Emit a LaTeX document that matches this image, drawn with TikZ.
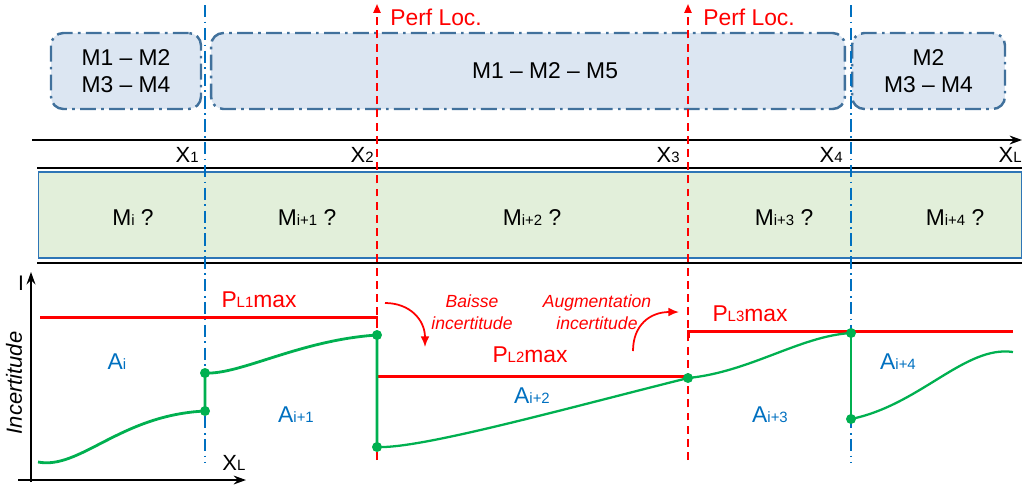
\documentclass[tikz,border=0pt]{standalone}
\usepackage{fontspec}
\setmainfont{Liberation Sans}
\usepackage{tikz}
\usetikzlibrary{arrows.meta, positioning}

\definecolor{boxfill}{HTML}{DCE6F2}
\definecolor{boxline}{HTML}{41719C}
\definecolor{bandfill}{HTML}{E2EFDA}
\definecolor{bandline}{HTML}{2E75B6}
\definecolor{areablue}{HTML}{0070C0}
\definecolor{curvegreen}{HTML}{00B050}

\newcommand{\smidx}[1]{{\fontsize{8.5}{9}\selectfont #1}}

\begin{document}
\begin{tikzpicture}[
    x=0.02cm, y=-0.02cm,
    mbox/.style={rectangle, rounded corners=7pt, draw=boxline, fill=boxfill, line width=1.4pt,
        dash pattern=on 9pt off 3pt on 1.5pt off 3pt, minimum height=1.52cm, align=center,
        font=\fontsize{13}{15.7}\selectfont},
    band/.style={rectangle, draw=bandline, fill=bandfill, line width=0.6pt, minimum width=19.68cm, minimum height=1.72cm},
    txt/.style={inner sep=0pt, anchor=base, font=\fontsize{13}{15}\selectfont},
    xlbl/.style={inner sep=0pt, anchor=base east, font=\fontsize{12.5}{14}\selectfont},
    note/.style={inner sep=0pt, align=center, text=red, font=\fontsize{10}{12.7}\selectfont\itshape},
    perf/.style={inner sep=0pt, anchor=base west, text=red, font=\fontsize{13}{15}\selectfont},
    zone/.style={txt, text=areablue},
    plmax/.style={txt, text=red},
    axis/.style={line width=1.1pt, -{Stealth[length=7pt, width=5pt]}},
    sep/.style={line width=1.1pt},
    bluecut/.style={draw=areablue, line width=1pt, dash pattern=on 7pt off 2.5pt on 1pt off 2.5pt},
    redcut/.style={draw=red, line width=1pt, dash pattern=on 4.5pt off 3pt, -{Triangle[length=5pt, width=4pt]}},
    plline/.style={draw=red, line width=1.7pt},
    curve/.style={draw=curvegreen, line width=1.6pt},
    dot/.style={circle, fill=curvegreen, inner sep=0pt, minimum size=0.2cm},
    arr/.style={red, line width=1pt, -{Latex[length=6pt, width=5pt]}}
]
\useasboundingbox (0,0) rectangle (1024,488);

% Groups of models
\node[mbox, minimum width=3cm]    (g1) at (126,71)   {M1 -- M2\\M3 -- M4};
\node[mbox, minimum width=12.68cm] (g2) at (528,71)  {\hspace{0.68cm}M1 -- M2 -- M5};
\node[mbox, minimum width=3.06cm] (g3) at (928.5,71) {M2\\M3 -- M4};

% Length axis
\coordinate (ax0) at (32,140);
\coordinate (ax1) at (1022,140);
\draw[axis] (ax0) -- (ax1);
\node[xlbl] (x1) at (199,162) {X\smidx{1}};
\node[xlbl] (x2) at (374,162) {X\smidx{2}};
\node[xlbl] (x3) at (680,162) {X\smidx{3}};
\node[xlbl] (x4) at (843,162) {X\smidx{4}};
\node[xlbl] (xl) at (1022,162) {X\smidx{L}};

% Models band
\coordinate (b0) at (37,168);
\coordinate (b1) at (1022,168);
\coordinate (b2) at (37,263);
\coordinate (b3) at (1022,263);
\draw[sep] (b0) -- (b1);
\draw[sep] (b2) -- (b3);
\node[band] (band) at (530,215) {};
\node[txt] (m0) at (133,225) {M\smidx{i} ?};
\node[txt] (m1) at (307,225) {M\smidx{i+1} ?};
\node[txt] (m2) at (532,225) {M\smidx{i+2} ?};
\node[txt] (m3) at (784,225) {M\smidx{i+3} ?};
\node[txt] (m4) at (955,225) {M\smidx{i+4} ?};

% Cuts
\coordinate (u1) at (205,5);   \coordinate (v1) at (205,462);
\coordinate (u4) at (851,5);   \coordinate (v4) at (851,462);
\coordinate (u2) at (377,4);   \coordinate (v2) at (377,460);
\coordinate (u3) at (688,4);   \coordinate (v3) at (688,460);
\draw[bluecut] (u1) -- (v1);
\draw[bluecut] (u4) -- (v4);
\draw[redcut] (v2) -- (u2);
\draw[redcut] (v3) -- (u3);
\node[perf] (perf1) at (390,25) {Perf Loc.};
\node[perf] (perf2) at (703,25) {Perf Loc.};

% Uncertainty plot
\coordinate (o1) at (31,482);
\coordinate (o2) at (31,272);
\coordinate (o3) at (18,480);
\coordinate (o4) at (246,480);
\draw[axis] (o1) -- (o2);
\draw[axis] (o3) -- (o4);
\node[inner sep=0pt, anchor=base, font=\fontsize{12}{14}\selectfont] (ilbl) at (21,290) {I};
\node[inner sep=0pt, anchor=base west, font=\fontsize{12.5}{14}\selectfont] (xlb) at (222,470) {X\smidx{L}};
\node[inner sep=0pt, rotate=90, font=\fontsize{12.5}{14}\selectfont\itshape] (ylbl) at (14,383) {Incertitude};

% Max levels
\coordinate (q0) at (40,317);   \coordinate (q1) at (377,317);   \coordinate (q2) at (377,323);
\coordinate (r0) at (377,376);  \coordinate (r1) at (688,376);
\coordinate (s0) at (688,338);  \coordinate (s1) at (688,331);   \coordinate (s2) at (1013,331);
\draw[plline] (q0) -- (q1) -- (q2);
\draw[plline] (r0) -- (r1);
\draw[plline] (s0) -- (s1) -- (s2);
\node[plmax] (pl1) at (259,307) {P\smidx{L1}max};
\node[plmax] (pl2) at (530,362) {P\smidx{L2}max};
\node[plmax] (pl3) at (750,321) {P\smidx{L3}max};

% Uncertainty curve
\coordinate (c0) at (38,462);
\coordinate (p1) at (205,411);  \coordinate (p2) at (205,373);
\coordinate (p3) at (377,335);  \coordinate (p4) at (377,447);
\coordinate (p5) at (688,378);
\coordinate (p6) at (851,333);  \coordinate (p7) at (851,419);
\coordinate (c1) at (1013,352);
\draw[curve] (c0) .. controls (80,470) and (120,415) .. (p1) -- (p2)
    .. controls (240,375) and (300,340) .. (p3) -- (p4);
\draw[curve, line width=1.3pt] (p4) .. controls (420,449) and (560,410) .. (p5)
    .. controls (750,372) and (800,336) .. (p6);
\draw[curve] (p6) -- (p7);
\draw[curve, line width=1.3pt] (p7) .. controls (920,405) and (965,345) .. (c1);
\foreach \p in {p1,p2,p3,p4,p5,p6,p7}
  \node[dot] (dot-\p) at (\p) {};

% Areas
\node[zone] (a0) at (117,369) {A\smidx{i}};
\node[zone] (a1) at (296,422) {A\smidx{i+1}};
\node[zone] (a2) at (532,403) {A\smidx{i+2}};
\node[zone] (a3) at (770,422) {A\smidx{i+3}};
\node[zone] (a4) at (898,369) {A\smidx{i+4}};

% Trend notes
\node[note] (down) at (472,312) {Baisse\\incertitude};
\node[note] (up)   at (597,312) {Augmentation\\incertitude};
\coordinate (k0) at (385,303);  \coordinate (k1) at (425,347);
\coordinate (k2) at (633,351);  \coordinate (k3) at (679,312);
\draw[arr] (k0) .. controls (410,303) and (425,320) .. (k1);
\draw[arr] (k2) .. controls (633,325) and (650,312) .. (k3);
\end{tikzpicture}
\end{document}
